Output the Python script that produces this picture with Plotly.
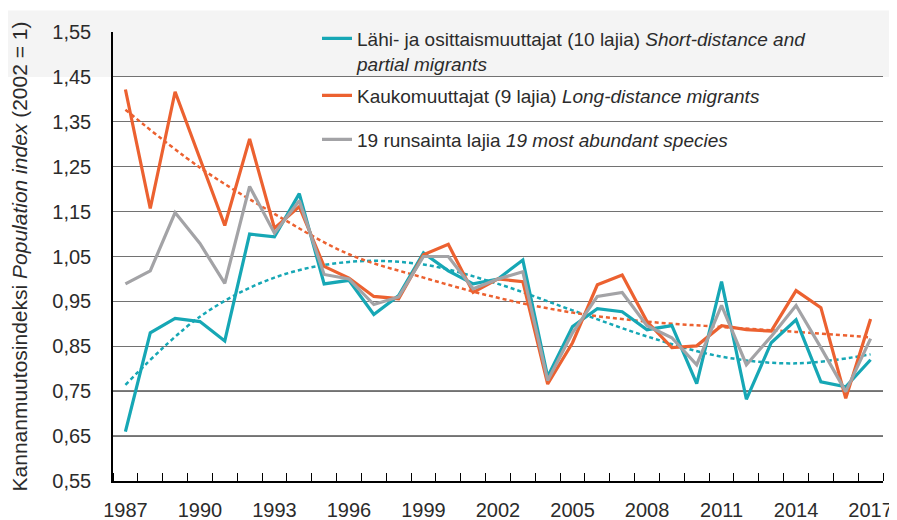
import plotly.graph_objects as go

years = list(range(1987, 2018))

short_distance = [0.660, 0.880, 0.912, 0.905, 0.862, 1.100, 1.094, 1.190, 0.989, 0.997,
                  0.921, 0.963, 1.058, 1.018, 0.989, 1.000, 1.042, 0.782, 0.894, 0.934,
                  0.927, 0.887, 0.896, 0.767, 0.994, 0.732, 0.858, 0.909, 0.771, 0.760, 0.820]
long_distance = [1.422, 1.157, 1.417, 1.268, 1.119, 1.312, 1.113, 1.161, 1.028, 1.002,
                 0.961, 0.956, 1.054, 1.077, 0.970, 1.000, 0.994, 0.766, 0.858, 0.987,
                 1.009, 0.905, 0.847, 0.851, 0.896, 0.887, 0.884, 0.974, 0.936, 0.734, 0.911]
abundant = [0.989, 1.018, 1.148, 1.079, 0.990, 1.206, 1.102, 1.174, 1.010, 1.000,
            0.943, 0.960, 1.050, 1.050, 0.978, 1.000, 1.016, 0.774, 0.880, 0.961,
            0.970, 0.896, 0.869, 0.809, 0.941, 0.809, 0.872, 0.941, 0.847, 0.749, 0.867]

trend_years = [1987, 1990, 1993, 1996, 1999, 2002, 2005, 2008, 2011, 2014, 2017]
short_trend = [0.764, 0.916, 1.003, 1.038, 1.032, 0.989, 0.930, 0.872, 0.827, 0.812, 0.832]
long_trend = [1.377, 1.248, 1.145, 1.055, 1.003, 0.958, 0.925, 0.905, 0.893, 0.882, 0.870]

label_years = [1987, 1990, 1993, 1996, 1999, 2002, 2005, 2008, 2011, 2014, 2017]
y_ticks = [0.55, 0.65, 0.75, 0.85, 0.95, 1.05, 1.15, 1.25, 1.35, 1.45, 1.55]
dark_grid = [0.65, 0.75]

TEAL = "#16A7B5"
ORANGE = "#EC6130"
GRAY = "#A3A3A6"
FONT = "Liberation Sans, Arial, sans-serif"
TXT = "#2b2b2b"

fig = go.Figure()
fig.add_trace(go.Scatter(x=trend_years, y=short_trend, mode="lines", line_shape="spline",
                         line=dict(color=TEAL, width=2.5, dash="4px,3px"), showlegend=False))
fig.add_trace(go.Scatter(x=trend_years, y=long_trend, mode="lines", line_shape="spline",
                         line=dict(color=ORANGE, width=2.5, dash="4px,3px"), showlegend=False))

fig.add_trace(go.Scatter(
    x=years, y=short_distance, mode="lines", line=dict(color=TEAL, width=3.2),
    name="Lähi- ja osittaismuuttajat (10 lajia) <i>Short-distance and</i><br><i>partial migrants</i>",
    legend="legend"))
fig.add_trace(go.Scatter(
    x=years, y=long_distance, mode="lines", line=dict(color=ORANGE, width=3.2),
    name="Kaukomuuttajat (9 lajia) <i>Long-distance migrants</i>", legend="legend2"))
fig.add_trace(go.Scatter(
    x=years, y=abundant, mode="lines", line=dict(color=GRAY, width=3.2),
    name="19 runsainta lajia <i>19 most abundant species</i>", legend="legend3"))

# page body has an 8px margin; plot area in page pixels: x 113..883, y 22..481
OFF = 8
PL, PR, PT, PB = 113, 883, 22, 481
W, H = 897 - OFF, 520 - OFF
L, T = PL - OFF, PT - OFF
R, B = W - (PR - OFF), H - (PB - OFF)
pw, ph = PR - PL, PB - PT

def py(page_y):
    return (PB - page_y) / ph

def px(page_x):
    return (page_x - PL) / pw

legend_common = dict(xref="paper", yref="paper", x=px(317), xanchor="left",
                     yanchor="middle", bgcolor="rgba(0,0,0,0)", borderwidth=0,
                     font=dict(family=FONT, size=19, color=TXT), valign="top")

fig.update_layout(
    width=W, height=H, autosize=False,
    margin=dict(l=L, r=R, t=T, b=B),
    paper_bgcolor="white", plot_bgcolor="rgba(0,0,0,0)",
    separators=", ",
    font=dict(family=FONT, size=18, color=TXT),
    legend=dict(legend_common, y=py(41.5)),
    legend2=dict(legend_common, y=py(87)),
    legend3=dict(legend_common, y=py(132)),
    xaxis=dict(range=[1986.5, 2017.5], tickvals=label_years, ticks="",
               showgrid=False, zeroline=False, automargin=False,
               showline=True, linecolor="black", linewidth=1.5,
               tickfont=dict(family=FONT, size=20, color=TXT), ticklabelstandoff=10,
               minor=dict(tick0=1986.5, dtick=1, ticks="inside", ticklen=8,
                          tickcolor="black", tickwidth=1.2, showgrid=False)),
    yaxis=dict(range=[0.55, 1.55], tickvals=y_ticks, tickformat=".2f", ticks="",
               showgrid=True, gridcolor="#727272", gridwidth=1.2, zeroline=False,
               automargin=False,
               showline=True, linecolor="black", linewidth=1.5,
               tickfont=dict(family=FONT, size=20, color=TXT), ticklabelstandoff=16,
               title=dict(text="Kannanmuutosindeksi <i>Population index</i> (2002 = 1)",
                          font=dict(family=FONT, size=21, color=TXT), standoff=21)),
    shapes=[
        dict(type="rect", xref="paper", yref="paper", x0=px(0), x1=px(897),
             y0=py(68), y1=py(0), fillcolor="#f4f4f4", line=dict(width=0), layer="below"),
    ] + [
        dict(type="line", xref="paper", yref="y", x0=0, x1=1, y0=g, y1=g,
             line=dict(color="black", width=1.3), layer="between") for g in dark_grid
    ],
)

fig.write_html("out.html")
